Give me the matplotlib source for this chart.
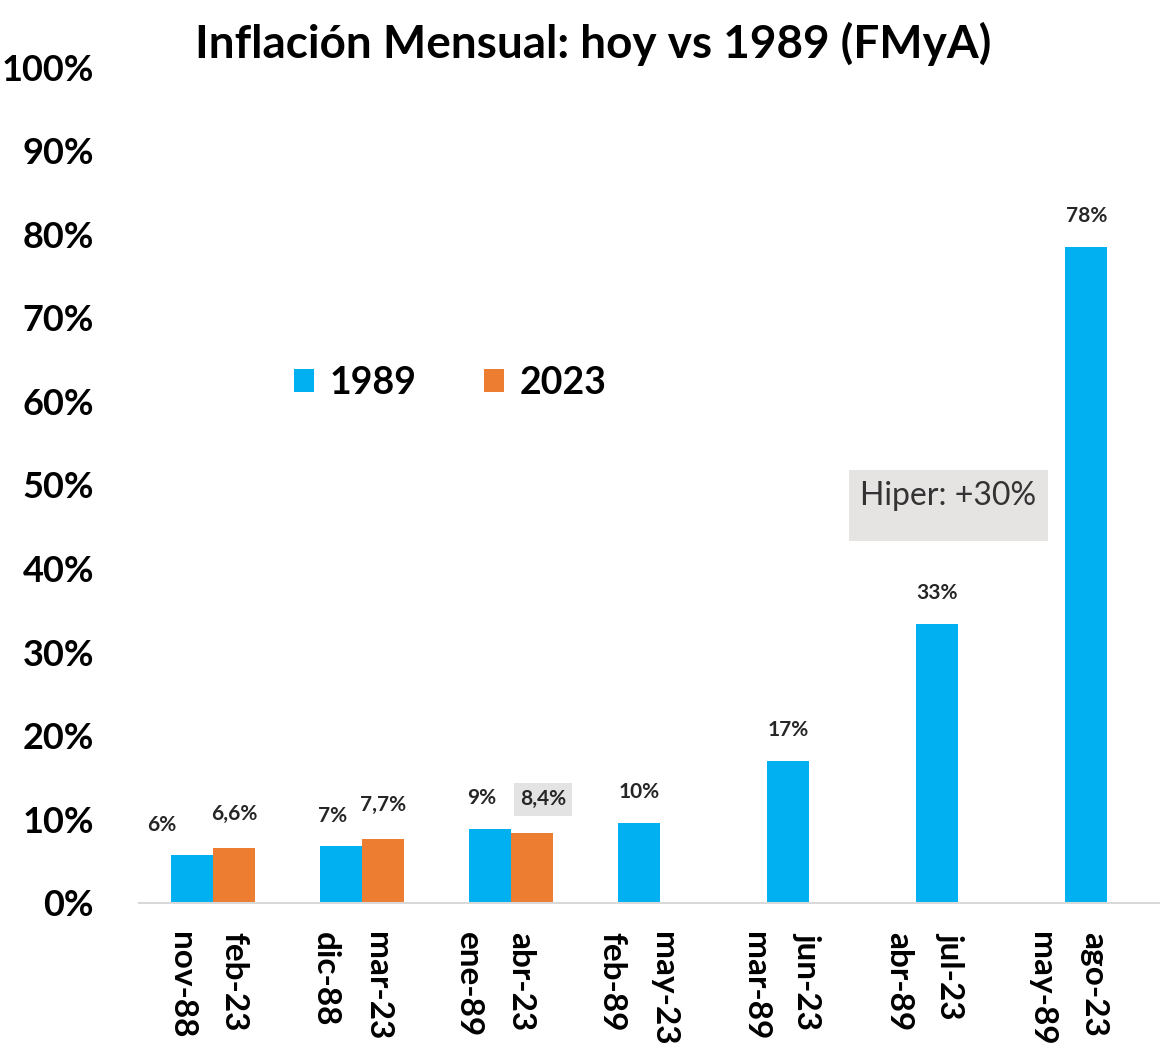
import numpy as np
import matplotlib
matplotlib.use("Agg")
import matplotlib.pyplot as plt
from matplotlib.patches import Rectangle

plt.rcParams['font.family'] = ['Lato', 'DejaVu Sans']

meses_89 = ['nov-88', 'dic-88', 'ene-89', 'feb-89', 'mar-89', 'abr-89', 'may-89']
meses_23 = ['feb-23', 'mar-23', 'abr-23', 'may-23', 'jun-23', 'jul-23', 'ago-23']
inf_1989 = [5.7, 6.8, 8.9, 9.6, 17.0, 33.4, 78.5]
inf_2023 = [6.6, 7.7, 8.4]
etiq_1989 = ['6%', '7%', '9%', '10%', '17%', '33%', '78%']
etiq_2023 = ['6,6%', '7,7%', '8,4%']

azul = '#00B0F0'
naranja = '#ED7D31'
w = 0.28

fig = plt.figure(figsize=(11.64, 10.54), dpi=100)
ax = fig.add_axes([0.119, 0.1433, 0.877, 0.7931])

x = np.arange(len(meses_89))
x23 = np.arange(len(inf_2023))
ax.bar(x - w / 2, inf_1989, w, color=azul, label='1989')
ax.bar(x23 + w / 2, inf_2023, w, color=naranja, label='2023')

for i, (xi, v, t) in enumerate(zip(x - w / 2, inf_1989, etiq_1989)):
    dx = -6 if i < len(inf_2023) else 0
    if i == 0:
        dx = -22
    ax.annotate(t, (xi, v), xytext=(dx, 22), textcoords='offset points',
                ha='center', va='center', fontsize=15, fontweight='bold', color='#262626')
for xi, v, t in zip(x23 + w / 2, inf_2023, etiq_2023):
    bb = None
    dx = 0
    if t == '8,4%':
        bb = dict(boxstyle='square,pad=0.3', fc='#e3e3e3', ec='none')
        dx = 8
    ax.annotate(t, (xi, v), xytext=(dx, 24), textcoords='offset points',
                ha='center', va='center', fontsize=15, fontweight='bold', color='#262626',
                bbox=bb)

# recuadro hiper
ax.add_patch(Rectangle((4.27, 43.3), 1.33, 8.5, facecolor='#e6e3e3', edgecolor='none'))
ax.text(4.935, 48.7, 'Hiper: +30%', ha='center', va='center', fontsize=23, color='#333333')

ax.set_xlim(-0.5, 6.35)
ax.set_ylim(0, 100)
ax.set_yticks(np.arange(0, 101, 10))
ax.set_yticklabels([f'{v}%' for v in range(0, 101, 10)], fontsize=26, fontweight='bold')

pos = np.concatenate([x * 0.962 - 0.21, x * 0.962 + 0.14])
labs = meses_89 + meses_23
ax.set_xticks(pos)
ax.set_xticklabels(labs, rotation=270, fontsize=24, fontweight='bold', ha='center', va='top')
ax.tick_params(axis='both', length=0)
ax.tick_params(axis='x', pad=21)
ax.tick_params(axis='y', pad=32)

for s in ['top', 'right', 'left']:
    ax.spines[s].set_visible(False)
ax.spines['bottom'].set_color('#d9d9d9')
ax.spines['bottom'].set_linewidth(1.5)

ax.legend(loc='center', bbox_to_anchor=(0.305, 0.622), ncol=2, frameon=False,
          prop={'size': 27, 'weight': 'bold'}, handlelength=0.55, handleheight=0.55,
          columnspacing=1.8, handletextpad=0.4)

fig.text(0.51, 0.958, 'Inflación Mensual: hoy vs 1989 (FMyA)', ha='center', va='center',
         fontsize=33, fontweight='bold')

fig.savefig('out.png', dpi=100)
